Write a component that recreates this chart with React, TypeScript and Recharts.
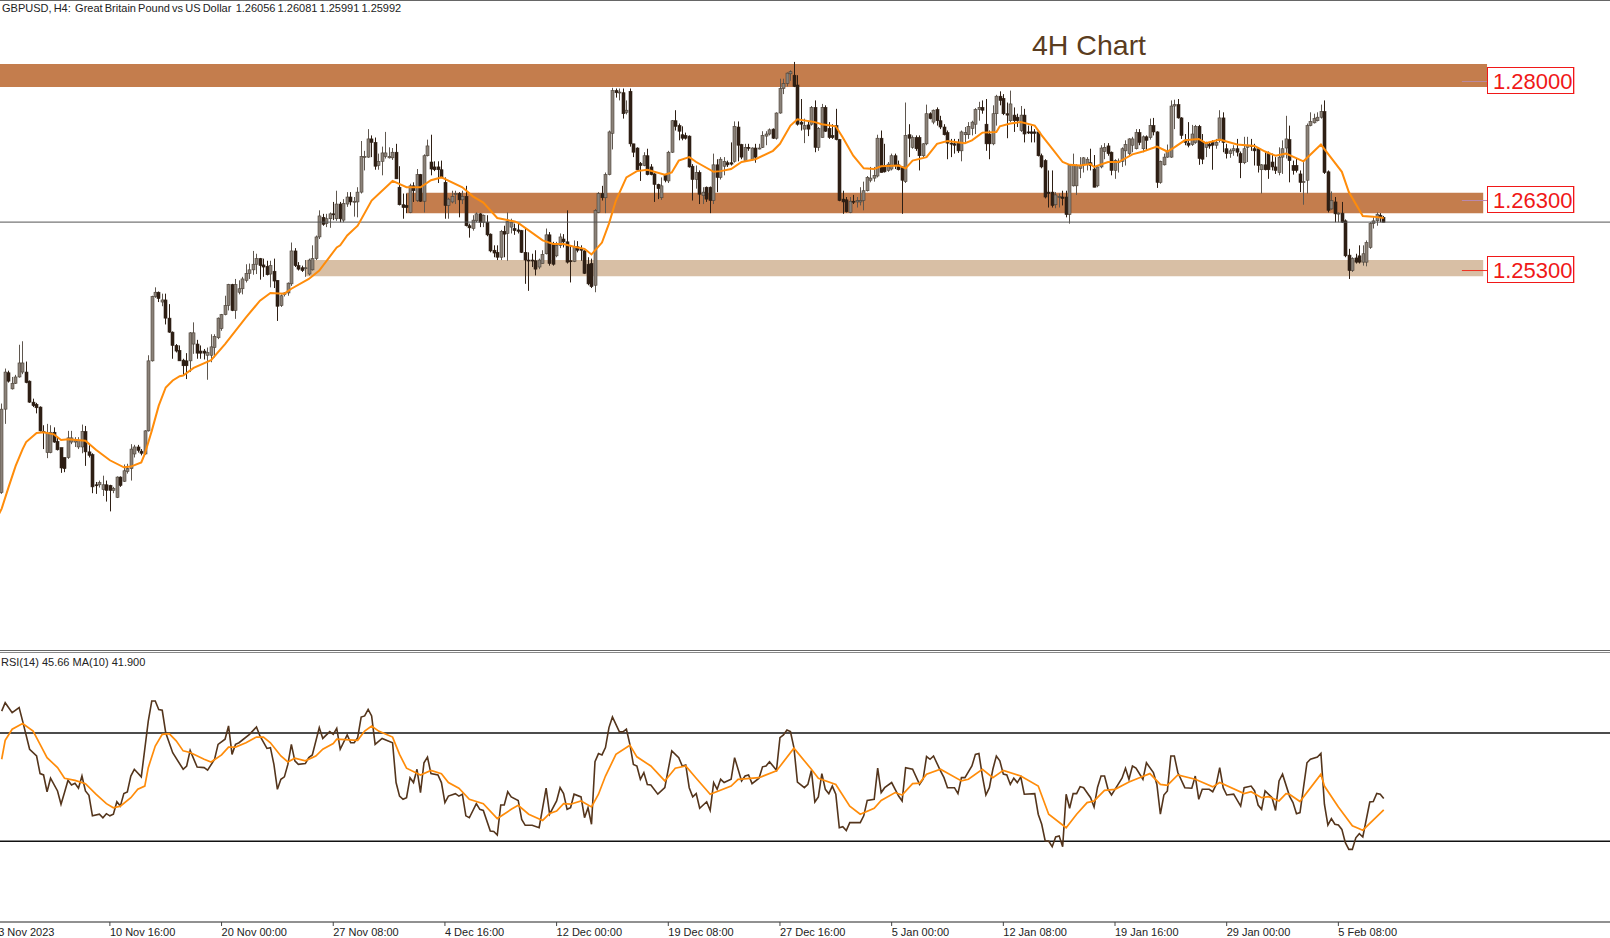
import { Bar, ComposedChart, Line, ReferenceArea, ReferenceLine, XAxis, YAxis } from 'recharts';

// quotes are kept in 1/10000 of a dollar (12630 = 1.2630), one entry per H4 bar
const opens = [
  12216,12213,12332,12384,12361,12369,12378,12385,12385,12372,
  12342,12339,12335,12300,12270,12270,12299,12286,12277,12263,
  12263,12285,12285,12278,12278,12300,12271,12267,12224,12224,
  12217,12224,12223,12216,12206,12235,12229,12243,12247,12268,
  12278,12272,12268,12301,12401,12493,12499,12485,12488,12462,
  12442,12423,12416,12402,12401,12401,12425,12425,12415,12415,
  12409,12409,12420,12434,12447,12467,12480,12510,12473,12499,
  12504,12516,12526,12531,12539,12547,12538,12536,12525,12529,
  12516,12480,12496,12498,12511,12558,12537,12534,12533,12525,
  12531,12547,12578,12606,12597,12604,12611,12604,12625,12602,
  12625,12635,12628,12628,12642,12693,12692,12718,12713,12680,
  12686,12693,12691,12691,12699,12649,12624,12623,12613,12651,
  12630,12667,12629,12694,12685,12678,12678,12674,12656,12623,
  12628,12639,12640,12631,12636,12594,12590,12601,12611,12599,
  12599,12582,12559,12556,12549,12586,12583,12592,12590,12588,
  12587,12556,12545,12545,12544,12535,12540,12554,12581,12568,
  12551,12566,12575,12571,12544,12543,12564,12561,12558,12539,
  12540,12509,12613,12640,12634,12667,12726,12787,12784,12784,
  12756,12786,12711,12705,12683,12680,12694,12678,12668,12653,
  12634,12666,12658,12699,12744,12737,12724,12723,12722,12679,
  12660,12670,12637,12649,12649,12630,12681,12663,12679,12684,
  12684,12686,12735,12710,12687,12706,12689,12705,12704,12706,
  12722,12725,12732,12719,12755,12790,12797,12811,12809,12795,
  12742,12732,12738,12739,12763,12706,12720,12763,12733,12723,
  12737,12717,12632,12631,12613,12629,12628,12628,12630,12644,
  12659,12662,12665,12719,12680,12673,12675,12694,12681,12678,
  12657,12724,12706,12720,12720,12694,12711,12754,12742,12760,
  12744,12735,12727,12712,12711,12712,12701,12724,12724,12733,
  12739,12760,12763,12739,12725,12711,12754,12779,12776,12754,
  12744,12752,12749,12730,12752,12728,12728,12728,12728,12694,
  12687,12642,12642,12624,12635,12635,12635,12610,12651,12651,
  12676,12681,12682,12684,12675,12651,12678,12700,12708,12699,
  12673,12684,12686,12701,12697,12709,12704,12727,12704,12721,
  12720,12737,12728,12656,12681,12692,12692,12765,12767,12748,
  12716,12712,12710,12713,12736,12714,12706,12710,12713,12709,
  12716,12748,12704,12697,12701,12704,12697,12684,12706,12709,
  12704,12704,12674,12681,12697,12685,12678,12670,12692,12705,
  12717,12680,12680,12668,12656,12659,12737,12741,12744,12749,
  12757,12671,12618,12628,12611,12612,12601,12552,12530,12548,
  12551,12542,12542,12563,12597,12601,12609,12606,
];
const highs = [
  12222,12340,12390,12387,12378,12381,12424,12429,12400,12373,
  12347,12341,12336,12309,12311,12309,12306,12292,12277,12263,
  12301,12301,12292,12292,12310,12308,12282,12269,12228,12230,
  12237,12230,12224,12221,12236,12236,12253,12254,12282,12281,
  12281,12275,12302,12409,12494,12506,12500,12497,12497,12482,
  12443,12425,12423,12404,12412,12442,12456,12431,12423,12418,
  12420,12439,12439,12463,12468,12494,12511,12511,12518,12516,
  12521,12539,12540,12558,12554,12548,12547,12544,12544,12547,
  12516,12496,12499,12513,12570,12562,12542,12537,12545,12547,
  12566,12580,12616,12611,12611,12613,12628,12644,12628,12632,
  12642,12642,12635,12649,12715,12701,12732,12723,12720,12697,
  12707,12728,12706,12705,12711,12679,12640,12640,12654,12656,
  12675,12668,12696,12717,12724,12686,12686,12687,12663,12634,
  12644,12644,12642,12644,12651,12597,12609,12613,12612,12610,
  12609,12583,12566,12566,12588,12594,12613,12604,12597,12597,
  12588,12590,12556,12554,12559,12547,12559,12590,12585,12571,
  12571,12583,12582,12616,12566,12573,12572,12566,12559,12549,
  12547,12618,12642,12651,12670,12730,12791,12790,12790,12790,
  12773,12790,12711,12706,12685,12699,12704,12682,12669,12654,
  12663,12668,12701,12745,12759,12740,12736,12727,12723,12682,
  12680,12673,12649,12650,12650,12697,12689,12692,12692,12687,
  12713,12743,12743,12711,12711,12711,12706,12711,12711,12729,
  12729,12733,12733,12756,12804,12804,12813,12816,12828,12809,
  12775,12747,12743,12765,12773,12735,12768,12766,12742,12739,
  12761,12718,12644,12635,12635,12638,12635,12649,12657,12665,
  12678,12678,12724,12730,12711,12685,12697,12697,12687,12679,
  12770,12739,12723,12723,12723,12712,12767,12756,12760,12763,
  12751,12739,12730,12718,12718,12718,12730,12735,12742,12744,
  12762,12771,12773,12775,12730,12766,12781,12786,12782,12770,
  12787,12763,12754,12765,12761,12737,12737,12732,12730,12697,
  12689,12673,12673,12642,12640,12644,12644,12681,12697,12682,
  12692,12692,12692,12704,12695,12680,12709,12712,12712,12700,
  12689,12690,12706,12716,12719,12721,12732,12732,12723,12723,
  12747,12748,12729,12687,12697,12710,12773,12774,12775,12749,
  12725,12742,12738,12738,12738,12725,12714,12713,12716,12718,
  12759,12756,12711,12704,12709,12718,12700,12721,12721,12718,
  12711,12706,12682,12699,12700,12697,12692,12706,12716,12751,
  12737,12687,12690,12673,12687,12740,12756,12754,12756,12767,
  12773,12673,12643,12635,12613,12628,12603,12561,12549,12554,
  12566,12566,12573,12599,12606,12613,12612,12608,
];
const lows = [
  12200,12211,12311,12370,12360,12368,12377,12382,12369,12341,
  12335,12326,12300,12275,12262,12269,12284,12273,12241,12242,
  12261,12282,12278,12275,12269,12251,12263,12212,12211,12220,
  12208,12200,12186,12212,12205,12221,12228,12240,12230,12263,
  12270,12266,12267,12300,12400,12491,12485,12479,12453,12441,
  12404,12413,12401,12380,12375,12385,12411,12404,12404,12403,
  12374,12399,12406,12432,12444,12466,12473,12472,12461,12496,
  12496,12513,12518,12524,12525,12517,12521,12523,12506,12505,
  12458,12478,12493,12494,12508,12535,12530,12528,12521,12523,
  12530,12545,12575,12594,12592,12591,12602,12601,12599,12599,
  12621,12623,12607,12606,12640,12673,12691,12692,12674,12674,
  12666,12690,12690,12688,12661,12623,12604,12612,12612,12628,
  12628,12628,12613,12693,12666,12672,12655,12662,12604,12604,
  12626,12625,12606,12625,12593,12577,12587,12599,12592,12592,
  12579,12556,12549,12545,12545,12549,12544,12583,12581,12583,
  12555,12511,12501,12535,12523,12532,12540,12553,12537,12537,
  12549,12562,12563,12540,12513,12542,12556,12544,12525,12509,
  12505,12499,12612,12630,12612,12666,12703,12777,12773,12747,
  12753,12707,12692,12673,12658,12679,12666,12666,12628,12632,
  12631,12656,12655,12698,12730,12716,12716,12717,12677,12630,
  12647,12625,12625,12628,12612,12625,12642,12660,12666,12678,
  12680,12684,12686,12689,12686,12701,12687,12684,12703,12705,
  12709,12723,12718,12717,12754,12782,12793,12801,12792,12737,
  12730,12712,12722,12737,12699,12701,12720,12728,12718,12718,
  12716,12629,12611,12613,12612,12625,12620,12623,12616,12643,
  12656,12657,12663,12670,12670,12671,12673,12675,12673,12611,
  12655,12692,12704,12701,12673,12692,12709,12746,12739,12737,
  12732,12723,12689,12692,12697,12698,12686,12711,12718,12723,
  12725,12744,12754,12701,12689,12709,12737,12766,12752,12719,
  12742,12728,12735,12728,12713,12725,12713,12713,12693,12676,
  12633,12620,12620,12619,12620,12623,12606,12597,12650,12638,
  12662,12670,12673,12673,12649,12649,12676,12689,12694,12666,
  12661,12670,12678,12680,12693,12699,12703,12709,12699,12701,
  12717,12723,12648,12654,12680,12691,12691,12732,12747,12718,
  12709,12706,12708,12711,12681,12682,12692,12704,12674,12704,
  12713,12699,12690,12691,12694,12693,12662,12682,12685,12701,
  12680,12670,12640,12673,12661,12673,12668,12666,12668,12690,
  12656,12667,12670,12642,12624,12640,12736,12740,12743,12747,
  12668,12613,12617,12599,12599,12598,12549,12518,12528,12540,
  12540,12537,12536,12561,12590,12594,12599,12599,
];
const closes = [
  12212,12332,12385,12372,12369,12378,12398,12398,12370,12342,
  12337,12334,12301,12299,12297,12299,12285,12274,12248,12247,
  12291,12291,12287,12287,12300,12271,12266,12221,12223,12227,
  12224,12216,12216,12219,12235,12223,12244,12247,12275,12278,
  12273,12269,12301,12401,12493,12499,12490,12488,12462,12442,
  12423,12415,12401,12394,12394,12441,12441,12412,12412,12412,
  12413,12421,12436,12462,12467,12480,12510,12473,12510,12504,
  12518,12526,12531,12539,12547,12537,12535,12524,12537,12515,
  12479,12494,12498,12512,12558,12537,12532,12530,12534,12545,
  12547,12578,12608,12596,12604,12611,12610,12625,12604,12626,
  12635,12628,12629,12642,12693,12693,12718,12713,12679,12686,
  12698,12698,12693,12699,12661,12624,12620,12620,12651,12644,
  12667,12629,12694,12708,12675,12674,12674,12663,12623,12632,
  12636,12640,12631,12636,12594,12591,12602,12611,12599,12609,
  12581,12558,12555,12549,12586,12582,12600,12599,12587,12586,
  12556,12545,12544,12544,12532,12545,12553,12581,12540,12539,
  12566,12578,12571,12542,12543,12564,12559,12559,12526,12511,
  12507,12616,12640,12634,12667,12728,12787,12784,12785,12754,
  12759,12711,12699,12674,12680,12694,12667,12667,12653,12647,
  12651,12659,12699,12744,12736,12729,12719,12719,12678,12660,
  12670,12639,12642,12632,12630,12681,12663,12689,12686,12681,
  12682,12736,12709,12692,12706,12705,12705,12692,12705,12723,
  12725,12731,12719,12755,12790,12797,12812,12814,12793,12739,
  12739,12737,12732,12763,12706,12733,12763,12729,12720,12720,
  12717,12630,12628,12614,12629,12628,12630,12630,12644,12663,
  12662,12666,12719,12670,12671,12682,12694,12680,12674,12659,
  12723,12719,12720,12704,12694,12711,12754,12747,12759,12744,
  12735,12724,12712,12711,12709,12701,12728,12727,12736,12742,
  12760,12763,12759,12711,12711,12754,12779,12773,12754,12752,
  12768,12744,12744,12752,12725,12727,12726,12726,12694,12678,
  12635,12640,12623,12638,12636,12633,12610,12680,12681,12680,
  12680,12691,12689,12680,12649,12678,12705,12706,12697,12673,
  12687,12686,12704,12710,12718,12718,12727,12713,12721,12716,
  12737,12728,12656,12686,12692,12700,12765,12767,12748,12723,
  12713,12709,12725,12736,12690,12689,12713,12708,12709,12713,
  12748,12713,12697,12701,12704,12699,12684,12704,12709,12707,
  12701,12680,12681,12674,12674,12678,12673,12692,12704,12718,
  12687,12673,12673,12656,12657,12737,12743,12747,12749,12757,
  12670,12616,12630,12611,12612,12599,12551,12530,12547,12542,
  12542,12554,12570,12597,12601,12610,12606,12599,
];

// moving average on the price pane, read at its bends
const emaBars = [0,1,3,5,7,8,11,13,16,18,20,25,28,32,36,38,41,42,44,46,48,50,52,53,56,61,65,71,75,78,82,84,89,92,97,98,100,103,107,113,117,121,124,127,133,136,139,143,148,149,156,159,162,165,168,170,173,175,177,180,183,186,191,193,195,198,200,205,207,210,213,217,222,224,227,229,234,236,240,242,245,248,251,253,258,260,262,266,269,272,277,279,282,286,287,290,293,297,299,302,305,307,310,313,314,318,321,325,328,332,335,337,340,344,346,350,355,360,363,366,369,374,379,381,385,387,391,394,397];
const emaValues = [12180,12190,12221,12251,12275,12285,12298,12299,12296,12288,12289,12287,12274,12259,12249,12250,12256,12268,12301,12337,12363,12373,12379,12380,12391,12402,12425,12463,12487,12498,12497,12504,12518,12530,12563,12566,12580,12594,12630,12658,12649,12649,12659,12663,12649,12636,12627,12605,12600,12598,12573,12568,12568,12564,12561,12553,12570,12597,12630,12663,12672,12674,12667,12670,12687,12692,12685,12671,12672,12675,12685,12689,12701,12711,12737,12746,12742,12739,12736,12720,12694,12676,12675,12679,12680,12676,12687,12692,12711,12715,12712,12716,12727,12728,12736,12740,12742,12737,12723,12704,12685,12681,12680,12682,12678,12685,12685,12696,12700,12707,12700,12706,12716,12718,12712,12717,12710,12708,12700,12694,12697,12686,12710,12697,12671,12642,12608,12607,12605];

const rsiBars = [1,2,4,6,7,9,11,12,13,14,15,17,18,19,20,21,22,23,24,25,26,27,29,30,31,32,33,34,35,36,37,38,39,41,43,44,45,46,47,48,50,53,54,55,57,59,60,62,63,65,66,67,68,69,72,74,75,77,78,79,80,81,82,83,84,85,86,88,89,90,92,93,95,96,97,98,100,101,102,103,104,105,106,107,108,110,113,114,115,116,117,118,119,120,121,122,123,124,126,127,128,129,131,132,133,134,135,137,138,139,141,142,143,144,145,146,147,149,150,151,153,155,157,158,160,161,162,163,164,165,167,168,169,170,171,172,173,174,175,176,178,179,180,181,182,183,184,185,186,187,189,191,193,195,196,197,198,199,200,201,203,204,205,206,207,208,210,211,213,214,215,216,218,219,220,221,223,224,225,226,227,228,229,231,232,233,234,235,236,237,238,239,240,241,242,243,244,247,248,249,251,252,253,254,256,258,259,260,262,264,265,266,267,268,270,271,272,274,275,276,277,279,280,281,282,283,284,285,286,287,288,289,290,291,292,293,294,297,298,299,300,301,302,303,304,305,306,307,308,309,310,311,313,314,315,316,317,318,319,320,322,323,324,325,326,328,329,331,332,333,334,335,336,337,338,340,342,343,344,345,347,348,349,350,351,352,354,356,357,359,360,361,362,363,365,366,367,368,370,371,372,373,375,376,378,379,380,381,382,383,384,385,386,387,388,389,390,391,393,394,395,396,397];
const rsiValues = [78.1,81.2,77.5,79.4,74.4,64,61.5,55,54.5,48.3,53.3,48.6,43.7,48,52.5,50.8,51.4,49.6,54.1,48.6,47,39.4,40,38.7,40.2,39.4,40,44.6,43,47.6,48.2,54.1,56.6,53.8,74.4,81.8,81.8,78.7,78.4,70.1,62.7,56.6,57.8,63.6,57.4,57.2,56.3,60.3,65.8,67.7,72.6,62.1,65.8,66.4,69.5,72.2,68.9,64.3,64.6,58.4,49.2,52.9,53.8,58.4,65.8,59.7,58.4,58.7,60.9,61.9,72,68,70.5,69.5,71.7,64,69.3,66.4,66.4,68.3,75.9,76.3,78.7,76.3,65.8,68,66.4,51.7,46.7,45.5,46.1,53.5,51.7,56.6,48,59,61.1,55,54.5,51.7,44.3,46.7,47.6,46.7,47.4,39.4,38.7,43.9,41.8,41.4,33.8,33.6,32.3,43.4,43.4,48.3,46.4,45.1,38.1,35.9,35.9,35,49.6,40,44.9,49.8,47.6,41.8,42.4,47.4,46.4,38.7,42.4,36.3,59.4,62.4,61.9,64.6,72,75.9,70.4,70.4,71.4,65.8,58.4,57.8,52.9,55.4,51,50.8,47.4,49.8,63.4,60.9,57.8,58.2,49.8,46.4,47.6,42.2,44.6,41.4,51.7,49.2,52.9,51.7,52.9,60.9,52.3,54.1,54.5,51.3,53.3,57.5,57.8,59.4,56.2,68.3,69.3,71.1,70.5,64.6,51.9,49.8,51,56.2,44.5,46.4,55,49.2,47.6,50.4,47.4,35,35.4,34,36.9,36.9,39.4,45.1,45.5,57,48,49.8,51.7,46.7,44.9,57.2,56.6,51,52.9,61.3,60.3,61.5,56,53.5,49.8,49.8,47.6,53.5,53.5,57.8,62.1,62.4,54.1,47.1,49.8,56.6,61.5,59.7,54.8,54.5,51,53.3,51.7,53.8,47.4,47.6,40,36.3,30.1,30.1,28,31.6,32,28,47.4,42.2,47.6,47.6,50.2,49.8,46.1,42.7,50,54.1,54.1,49.2,47.1,49.2,53.3,57,52.9,57.8,57,52.9,59,55.4,51,40,47.1,48.6,61.5,61.5,55.4,49.8,49.6,54.1,45.5,49.2,49.2,48.3,51,57.2,49.8,47.1,47.4,43,49.8,50.4,48.6,43.4,41.8,48.6,46.1,41.4,52.3,54.8,46.7,44.3,40.2,40.6,59,60.3,61.1,62.5,43.7,36,38.4,36.3,36,34.4,29.5,27,27,31.3,32.8,31.6,44.5,44.7,47.7,47.4,45.8];

const rsiMaBars = [1,2,4,7,10,12,14,17,19,22,25,28,31,33,35,38,40,42,43,45,47,49,51,53,55,59,61,64,66,68,71,74,76,78,81,83,85,88,91,93,96,97,103,105,107,109,113,115,117,121,124,127,129,132,135,139,143,147,149,152,156,158,160,162,164,167,170,172,174,177,181,183,187,191,194,197,200,204,210,212,218,223,228,233,235,240,244,247,251,253,257,259,262,264,266,270,276,278,282,285,288,293,298,301,306,309,312,314,317,320,324,327,330,333,335,338,343,348,350,357,359,362,364,367,369,370,373,379,380,384,388,391,397];
const rsiMaValues = [60.3,67.3,71.4,73.5,70.7,65.8,60.9,57.2,53.3,52.5,51.3,47.4,43.9,42.4,43,46.1,49.2,50.4,57.2,65.2,69.5,69.8,67.1,63.4,62.8,60.3,59.3,61.9,64.8,64.8,66.4,68.5,68.5,66.4,61.5,59.3,60.7,59.7,61.5,64,66.1,67.7,67.3,70.7,72.6,70.7,68.5,62.1,57,54.5,56.2,55,51.7,49.6,45.5,43.9,38.4,41.8,43.3,40,37.7,40.3,41.2,43.9,43.7,44.9,42.7,47.4,54.1,62.1,65.5,61.2,57.8,52.3,57,57.8,53.3,47.4,50.4,52.9,53.5,56,64.4,56.6,53.3,51,43,40,42.2,45.1,48,47.1,51.3,51.5,54.8,56.6,52.3,52.9,56.6,53.5,56.2,54.1,50.4,40,35,40,44.3,44.9,48.8,49.2,51.9,53.5,55,51,50.7,54.5,52.9,50.1,51.7,47.6,48.3,46.1,46.5,44.9,47.6,47.4,44.7,54.8,50.4,42.7,35.7,34.1,41.6];

const xTickBars = [0,32,64,96,128,160,192,224,256,288,320,352,384];
const xTickLabels = ['3 Nov 2023','10 Nov 16:00','20 Nov 00:00','27 Nov 08:00','4 Dec 16:00','12 Dec 00:00','19 Dec 08:00','27 Dec 16:00','5 Jan 00:00','12 Jan 08:00','19 Jan 16:00','29 Jan 00:00','5 Feb 08:00'];

const zoneLows = [12792, 12612, 12522];
const zoneHighs = [12825, 12641, 12545];
const zoneStarts = [-5.2, 117, 88];
const zoneEnds = [426.6, 425.5, 425.5];
const zoneColors = ['#c47d4d', '#c47d4d', '#d8bfa5'];

const levelPrices = [12800, 12630, 12530];
const levelLabels = ['1.28000', '1.26300', '1.25300'];
const levelColors = ['#b98aa0', '#b98ab0', '#f03020'];

const lastClose = 12599.2;

const rows = opens.map((open, i) => ({
  i,
  open,
  high: highs[i],
  low: lows[i],
  close: closes[i],
  ema: null as number | null,
  rsi: null as number | null,
  rsiMa: null as number | null,
}));
emaBars.forEach((bar, k) => { rows[bar].ema = emaValues[k]; });
rsiBars.forEach((bar, k) => { rows[bar].rsi = rsiValues[k]; });
rsiMaBars.forEach((bar, k) => { rows[bar].rsiMa = rsiMaValues[k]; });

const CHART_WIDTH = 1630;
const X_DOMAIN = [-5.215, 461.83];
const FONT = '"Liberation Sans", Arial, sans-serif';

const Candle = (props: any) => {
  const { x, y, width, height, payload } = props;
  const { open, high, low, close } = payload;
  const perUnit = height / Math.max(high - low, 1);
  const top = y + (high - Math.max(open, close)) * perUnit;
  const bottom = y + (high - Math.min(open, close)) * perUnit;
  const cx = Math.round(x + width / 2) + 0.5;
  const up = close >= open;
  const dark = '#2e1f14';
  return (
    <g>
      <line x1={cx} x2={cx} y1={y} y2={y + height} stroke={up ? '#5f574f' : dark} strokeWidth={1} />
      <rect
        x={cx - 1.5}
        y={top}
        width={3}
        height={Math.max(bottom - top, 1)}
        fill={up ? '#8b8279' : dark}
        stroke={up ? '#4a4036' : dark}
        strokeWidth={0.6}
      />
    </g>
  );
};

const TimeTick = (props: any) => {
  const { x, y, payload } = props;
  const label = xTickLabels[xTickBars.indexOf(payload.value)];
  return (
    <text x={x} y={y + 8} fontSize={11} fontFamily={FONT} fill="#222" textAnchor="start">
      {label}
    </text>
  );
};

export default function App() {
  return (
    <div style={{ position: 'absolute', left: 0, top: 0, width: 1610, height: 938, overflow: 'hidden', background: '#fff', fontFamily: FONT }}>
      <div style={{ position: 'absolute', left: 0, top: 0, width: 1610, height: 1, background: '#666' }} />
      <div style={{ position: 'absolute', left: 0, top: 650, width: 1610, height: 1, background: '#666' }} />
      <div style={{ position: 'absolute', left: 0, top: 652, width: 1610, height: 1, background: '#888' }} />

      <div style={{ position: 'absolute', left: -20, top: 1 }}>
        <ComposedChart width={CHART_WIDTH} height={649} data={rows} margin={{ top: 0, right: 0, bottom: 0, left: 0 }}>
          <XAxis dataKey="i" type="number" domain={X_DOMAIN} hide allowDataOverflow />
          <YAxis type="number" domain={[11988, 12915]} hide allowDataOverflow />
          {zoneLows.map((low, k) => (
            <ReferenceArea
              key={k}
              x1={zoneStarts[k]}
              x2={zoneEnds[k]}
              y1={low}
              y2={zoneHighs[k]}
              fill={zoneColors[k]}
              fillOpacity={1}
              stroke="none"
            />
          ))}
          <ReferenceLine y={lastClose} stroke="#555" strokeWidth={1} />
          {levelPrices.map((price, k) => (
            <ReferenceLine
              key={k}
              segment={[{ x: 419.4, y: price }, { x: 426.6, y: price }]}
              stroke={levelColors[k]}
              strokeWidth={1}
            />
          ))}
          <Bar
            dataKey={(row: any) => [row.low, row.high]}
            barSize={3}
            shape={Candle}
            isAnimationActive={false}
          />
          <Line dataKey="ema" type="linear" stroke="#ff8c0a" strokeWidth={2} dot={false} connectNulls isAnimationActive={false} />
        </ComposedChart>
      </div>

      <div style={{ position: 'absolute', left: -20, top: 655 }}>
        <ComposedChart width={CHART_WIDTH} height={283} data={rows} margin={{ top: 0, right: 0, bottom: 0, left: 0 }}>
          <XAxis
            dataKey="i"
            type="number"
            domain={X_DOMAIN}
            allowDataOverflow
            ticks={xTickBars}
            interval={0}
            height={16}
            tick={TimeTick}
            tickSize={4}
            tickLine={{ stroke: '#444' }}
            axisLine={{ stroke: '#222' }}
          />
          <YAxis type="number" domain={[0.19, 98.81]} hide allowDataOverflow />
          <ReferenceLine y={70} stroke="#111" strokeWidth={1.5} />
          <ReferenceLine y={30} stroke="#111" strokeWidth={1.5} />
          <Line dataKey="rsi" type="linear" stroke="#54351c" strokeWidth={1.6} dot={false} connectNulls isAnimationActive={false} />
          <Line dataKey="rsiMa" type="linear" stroke="#ff8c0a" strokeWidth={1.7} dot={false} connectNulls isAnimationActive={false} />
        </ComposedChart>
      </div>

      <div style={{ position: 'absolute', left: 2, top: 2, fontSize: 11, lineHeight: '13px', color: '#222', whiteSpace: 'pre', wordSpacing: -0.9 }}>
        {'GBPUSD, H4:  Great Britain Pound vs US Dollar  1.26056 1.26081 1.25991 1.25992'}
      </div>
      <div style={{ position: 'absolute', left: 1, top: 656, fontSize: 11, lineHeight: '13px', color: '#222', whiteSpace: 'pre' }}>
        {'RSI(14) 45.66 MA(10) 41.900'}
      </div>
      <div style={{ position: 'absolute', left: 1032, top: 27, fontSize: 28.5, lineHeight: '36px', color: '#5a3c20', whiteSpace: 'pre' }}>
        4H Chart
      </div>

      {levelLabels.map((label, k) => (
        <div
          key={label}
          style={{
            position: 'absolute',
            left: 1487,
            top: [67, 186, 256][k],
            width: 80,
            height: 25,
            paddingLeft: 5,
            border: '1px solid #f01818',
            boxShadow: '1px 0 0 #ffb0b0',
            background: '#fff',
            color: '#f01818',
            fontSize: 22,
            lineHeight: '28px',
            textAlign: 'left',
          }}
        >
          {label}
        </div>
      ))}
    </div>
  );
}
